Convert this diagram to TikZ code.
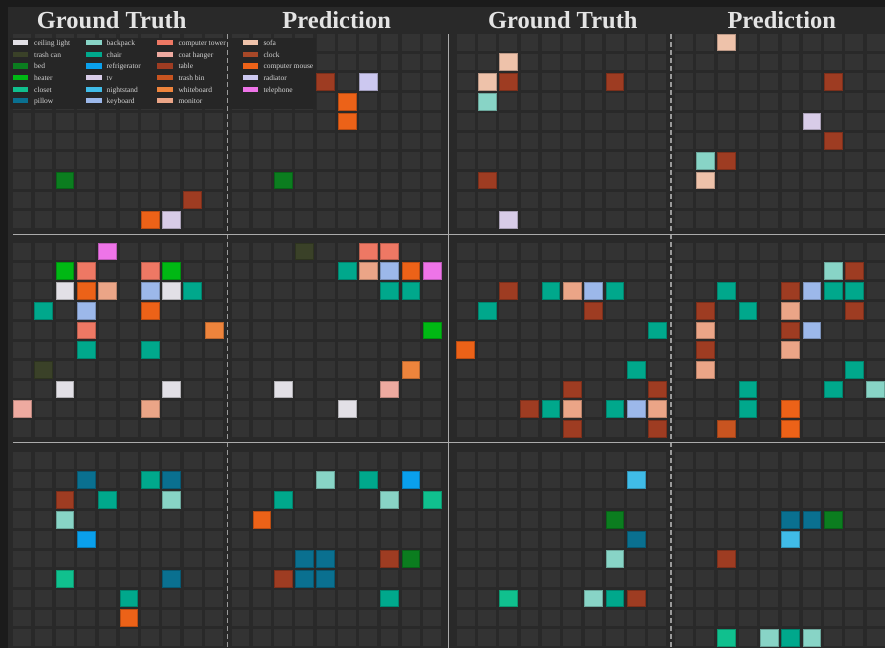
\documentclass[tikz,border=0pt]{standalone}
\usepackage{fontspec}
\setmainfont{Liberation Serif}
\usepackage{xcolor}

\definecolor{outerbg}{HTML}{1B1B1B}
\definecolor{figbg}{HTML}{292929}
\definecolor{legendbg}{HTML}{262626}
\definecolor{cellgray}{HTML}{333333}
\definecolor{sepgray}{HTML}{ABABAB}
\definecolor{dashgray}{HTML}{9A9A9A}
\definecolor{titlegray}{HTML}{E4E4E4}
\definecolor{legendgray}{HTML}{D6D6D6}

\definecolor{ceilinglight}{HTML}{E2E0E6}
\definecolor{trashcan}{HTML}{3A4128}
\definecolor{bed}{HTML}{0B7D1F}
\definecolor{heater}{HTML}{00B814}
\definecolor{closet}{HTML}{10C08E}
\definecolor{pillow}{HTML}{0A7090}
\definecolor{backpack}{HTML}{88D4C6}
\definecolor{chair}{HTML}{00A88C}
\definecolor{refrigerator}{HTML}{0AA0EC}
\definecolor{tv}{HTML}{D8CCE8}
\definecolor{nightstand}{HTML}{40BCE8}
\definecolor{keyboard}{HTML}{9CB8EA}
\definecolor{computertower}{HTML}{EE7864}
\definecolor{coathanger}{HTML}{EEAAA0}
\definecolor{table}{HTML}{9E3C22}
\definecolor{trashbin}{HTML}{C85420}
\definecolor{whiteboard}{HTML}{EE843C}
\definecolor{monitor}{HTML}{EBA587}
\definecolor{sofa}{HTML}{EEC2AA}
\definecolor{clock}{HTML}{A84828}
\definecolor{computermouse}{HTML}{EC6218}
\definecolor{radiator}{HTML}{CCC8F0}
\definecolor{telephone}{HTML}{EE74E8}

% #1 panel left, #2 panel top, #3 list of col/row/object
\newcommand{\putcells}[3]{%
  \foreach \c/\r/\k in {#3}
    \filldraw[obj=\k] ({#1+\c*21.3},{#2+\r*19.72}) rectangle ++(17.8,16.7);}

\begin{document}
\begin{tikzpicture}[x=1pt, y=-1pt,
    obj/.style={fill=#1, draw=#1!78!black, line width=0.6pt},
    sepline/.style={draw=sepgray, line width=1.4pt},
    dashline/.style={draw=dashgray, line width=1.2pt, dash pattern=on 5pt off 3pt},
    paneltitle/.style={text=titlegray, font=\fontsize{24.5}{26}\selectfont\bfseries, anchor=base, inner sep=0pt},
    legtext/.style={text=legendgray, font=\fontsize{7.5}{8}\selectfont, anchor=base west, inner sep=0pt}]
    \useasboundingbox (0,0) rectangle (885,648);
    \fill[outerbg] (0,0) rectangle (885,648);
    \fill[figbg] (7.5,7) rectangle (885,648);

    \foreach \px in {13.3,231.5,456.7,675}
      \foreach \py in {34,243,452}
        \foreach \c in {0,...,9}
          \foreach \r in {0,...,9}
            \fill[cellgray] ({\px+\c*21.3},{\py+\r*19.72}) rectangle ++(17.8,16.7);

    \putcells{13.3}{34}{2/7/bed, 8/8/table, 6/9/computermouse, 7/9/tv}
    \putcells{231.5}{34}{4/2/table, 6/2/radiator, 5/3/computermouse, 5/4/computermouse, 2/7/bed}
    \putcells{456.7}{34}{2/1/sofa, 1/2/sofa, 2/2/table, 7/2/table, 1/3/backpack, 1/7/table, 2/9/tv}
    \putcells{675}{34}{2/0/sofa, 7/2/table, 6/4/tv, 7/5/table, 1/6/backpack, 2/6/table, 1/7/sofa}

    \putcells{13.3}{243}{4/0/telephone, 2/1/heater, 3/1/computertower, 6/1/computertower, 7/1/heater,
      2/2/ceilinglight, 3/2/computermouse, 4/2/monitor, 6/2/keyboard, 7/2/ceilinglight, 8/2/chair,
      1/3/chair, 3/3/keyboard, 6/3/computermouse, 3/4/computertower, 9/4/whiteboard, 3/5/chair, 6/5/chair,
      1/6/trashcan, 2/7/ceilinglight, 7/7/ceilinglight, 0/8/coathanger, 6/8/monitor}
    \putcells{231.5}{243}{3/0/trashcan, 6/0/computertower, 7/0/computertower, 5/1/chair, 6/1/monitor,
      7/1/keyboard, 8/1/computermouse, 9/1/telephone, 7/2/chair, 8/2/chair, 9/4/heater, 8/6/whiteboard,
      2/7/ceilinglight, 7/7/coathanger, 5/8/ceilinglight}
    \putcells{456.7}{243}{2/2/table, 4/2/chair, 5/2/monitor, 6/2/keyboard, 7/2/chair, 1/3/chair, 6/3/table,
      9/4/chair, 0/5/computermouse, 8/6/chair, 5/7/table, 9/7/table, 3/8/table, 4/8/chair, 5/8/monitor,
      7/8/chair, 8/8/keyboard, 9/8/monitor, 5/9/table, 9/9/table}
    \putcells{675}{243}{7/1/backpack, 8/1/table, 2/2/chair, 5/2/table, 6/2/keyboard, 7/2/chair, 8/2/chair,
      1/3/table, 3/3/chair, 5/3/monitor, 8/3/table, 1/4/monitor, 5/4/table, 6/4/keyboard, 1/5/table,
      5/5/monitor, 1/6/monitor, 8/6/chair, 3/7/chair, 7/7/chair, 9/7/backpack, 3/8/chair,
      5/8/computermouse, 2/9/trashbin, 5/9/computermouse}

    \putcells{13.3}{452}{3/1/pillow, 6/1/chair, 7/1/pillow, 2/2/table, 4/2/chair, 7/2/backpack, 2/3/backpack,
      3/4/refrigerator, 2/6/closet, 7/6/pillow, 5/7/chair, 5/8/computermouse}
    \putcells{231.5}{452}{4/1/backpack, 6/1/chair, 8/1/refrigerator, 2/2/chair, 7/2/backpack, 9/2/closet,
      1/3/computermouse, 3/5/pillow, 4/5/pillow, 7/5/table, 8/5/bed, 2/6/table, 3/6/pillow, 4/6/pillow, 7/7/chair}
    \putcells{456.7}{452}{8/1/nightstand, 7/3/bed, 8/4/pillow, 7/5/backpack, 2/7/closet, 6/7/backpack,
      7/7/chair, 8/7/table}
    \putcells{675}{452}{5/3/pillow, 6/3/pillow, 7/3/bed, 5/4/nightstand, 2/5/table, 2/9/closet,
      4/9/backpack, 5/9/chair, 6/9/backpack}

    \fill[legendbg] (10,37.5) rectangle (316,108.5);
    \foreach \k/\t [count=\i from 0] in {ceilinglight/ceiling light, trashcan/trash can, bed/bed,
        heater/heater, closet/closet, pillow/pillow} {
      \fill[\k] (12.7,{40.2+\i*11.6}) rectangle ++(15.6,5.2);
      \node[legtext] (lgA\i) at (34,{45.7+\i*11.6}) {\t};
    }
    \foreach \k/\t [count=\i from 0] in {backpack/backpack, chair/chair, refrigerator/refrigerator,
        tv/tv, nightstand/nightstand, keyboard/keyboard} {
      \fill[\k] (86,{40.2+\i*11.6}) rectangle ++(15.6,5.2);
      \node[legtext] (lgB\i) at (106.5,{45.7+\i*11.6}) {\t};
    }
    \foreach \k/\t [count=\i from 0] in {computertower/computer tower, coathanger/coat hanger, table/table,
        trashbin/trash bin, whiteboard/whiteboard, monitor/monitor} {
      \fill[\k] (157.3,{40.2+\i*11.6}) rectangle ++(15.6,5.2);
      \node[legtext] (lgC\i) at (178.3,{45.7+\i*11.6}) {\t};
    }
    \foreach \k/\t [count=\i from 0] in {sofa/sofa, clock/clock, computermouse/computer mouse,
        radiator/radiator, telephone/telephone} {
      \fill[\k] (242.7,{40.2+\i*11.6}) rectangle ++(15.6,5.2);
      \node[legtext] (lgD\i) at (263.3,{45.7+\i*11.6}) {\t};
    }

    \draw[dashline] (227.7,34) -- (227.7,648);
    \draw[dashline] (671,34) -- (671,648);
    \draw[sepline] (448.5,34) -- (448.5,648);
    \draw[sepline] (13,234.5) -- (885,234.5);
    \draw[sepline] (13,442.7) -- (885,442.7);

    \node[paneltitle] (gtA) at (111.7,28.3) {Ground Truth};
    \node[paneltitle] (prA) at (336.7,28.3) {Prediction};
    \node[paneltitle] (gtB) at (562.8,28.3) {Ground Truth};
    \node[paneltitle] (prB) at (781.7,28.3) {Prediction};
\end{tikzpicture}
\end{document}
